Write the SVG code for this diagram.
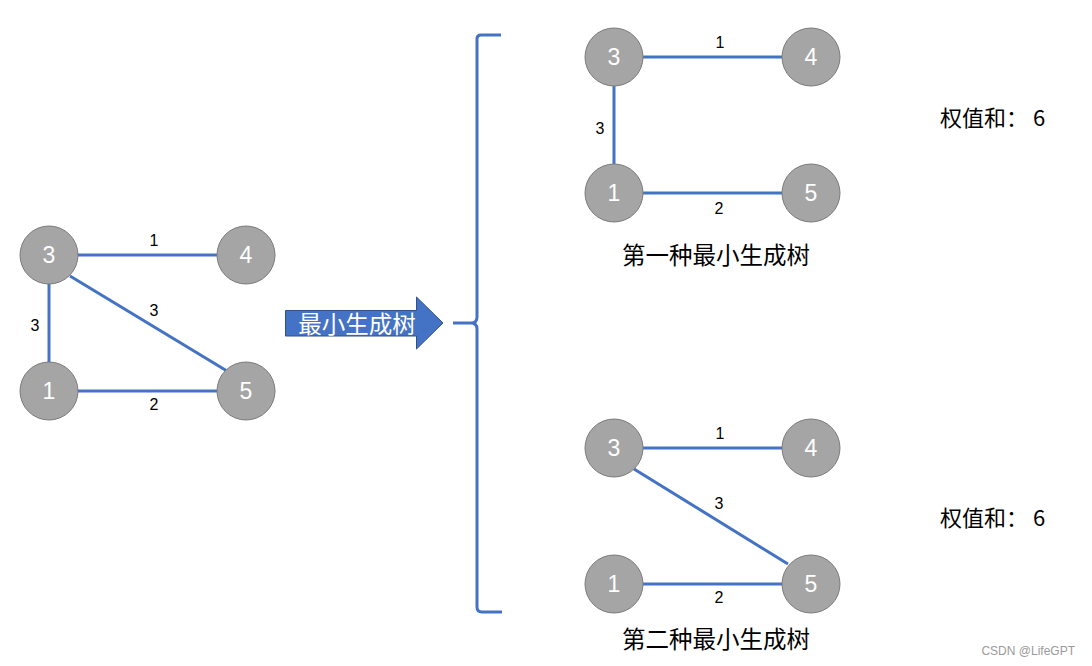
<svg xmlns="http://www.w3.org/2000/svg" width="1092" height="666" viewBox="0 0 1092 666">
<style>
.node circle{fill:#A5A5A5;stroke:#7a7a7a;stroke-width:1}
.node text{fill:#fff;font-family:"Liberation Sans","Noto Sans",sans-serif;font-size:23px;text-anchor:middle;dominant-baseline:central}
.edge{stroke:#4472C4;stroke-width:3;fill:none}
.lbl{fill:#000;font-family:"Liberation Sans","Noto Sans",sans-serif;font-size:16px;text-anchor:middle;dominant-baseline:central}
.cjk{fill:#000;font-family:"Noto Sans CJK SC",sans-serif;font-size:22px;dominant-baseline:central}
</style>
<rect width="1092" height="666" fill="#fff"/>
<g id="connectors">
<line class="edge" x1="78" y1="255" x2="217" y2="255"/>
<line class="edge" x1="49" y1="284" x2="49" y2="362"/>
<line class="edge" x1="70" y1="276" x2="227" y2="371"/>
<line class="edge" x1="78" y1="391" x2="217" y2="391"/>
<line class="edge" x1="643" y1="57" x2="782" y2="57"/>
<line class="edge" x1="614" y1="86" x2="614" y2="164"/>
<line class="edge" x1="643" y1="193" x2="782" y2="193"/>
<line class="edge" x1="643" y1="448" x2="782" y2="448"/>
<line class="edge" x1="634" y1="469" x2="788" y2="564"/>
<line class="edge" x1="643" y1="584" x2="782" y2="584"/>
</g>
<g id="edge-labels">
<text class="lbl" x="154" y="240">1</text>
<text class="lbl" x="35" y="325">3</text>
<text class="lbl" x="154" y="310">3</text>
<text class="lbl" x="154" y="404">2</text>
<text class="lbl" x="720" y="42">1</text>
<text class="lbl" x="600" y="128">3</text>
<text class="lbl" x="719" y="208">2</text>
<text class="lbl" x="720" y="433">1</text>
<text class="lbl" x="719" y="503">3</text>
<text class="lbl" x="719" y="597">2</text>
</g>
<g id="g0-n3" class="node"><circle cx="49" cy="255" r="29"/><text x="49" y="255">3</text></g>
<g id="g0-n4" class="node"><circle cx="246" cy="255" r="29"/><text x="246" y="255">4</text></g>
<g id="g0-n1" class="node"><circle cx="49" cy="391" r="29"/><text x="49" y="391">1</text></g>
<g id="g0-n5" class="node"><circle cx="246" cy="391" r="29"/><text x="246" y="391">5</text></g>
<g id="g1-n3" class="node"><circle cx="614" cy="57" r="29"/><text x="614" y="57">3</text></g>
<g id="g1-n4" class="node"><circle cx="811" cy="57" r="29"/><text x="811" y="57">4</text></g>
<g id="g1-n1" class="node"><circle cx="614" cy="193" r="29"/><text x="614" y="193">1</text></g>
<g id="g1-n5" class="node"><circle cx="811" cy="193" r="29"/><text x="811" y="193">5</text></g>
<g id="g2-n3" class="node"><circle cx="614" cy="448" r="29"/><text x="614" y="448">3</text></g>
<g id="g2-n4" class="node"><circle cx="811" cy="448" r="29"/><text x="811" y="448">4</text></g>
<g id="g2-n1" class="node"><circle cx="614" cy="584" r="29"/><text x="614" y="584">1</text></g>
<g id="g2-n5" class="node"><circle cx="811" cy="584" r="29"/><text x="811" y="584">5</text></g>
<g id="arrow">
<path d="M285.5 310.5 H416.5 V297 L443 323 L416.5 349 V336 H285.5 Z" fill="#4472C4" stroke="#2F528F" stroke-width="1"/>
<text x="357" y="323" class="cjk" style="fill:#fff;text-anchor:middle;font-size:23.5px">最小生成树</text>
</g>
<g id="brace">
<path d="M501 35 H481 Q477 35 477 39 V317 Q477 323 471 323 H453 M477 329 Q477 323 471 323 M477 329 V607 Q477 612 482 612 H502" fill="none" stroke="#4472C4" stroke-width="3"/>
</g>
<text class="cjk" x="716" y="254" style="text-anchor:middle;font-size:23.5px">第一种最小生成树</text>
<text class="cjk" x="716" y="638" style="text-anchor:middle;font-size:23.5px">第二种最小生成树</text>
<text class="cjk" x="940" y="116">权值和： 6</text>
<text class="cjk" x="940" y="516">权值和： 6</text>
<text x="1075" y="651" style="fill:#9a9a9a;font-family:'Liberation Sans',sans-serif;font-size:12px;text-anchor:end;dominant-baseline:central">CSDN @LifeGPT</text>
</svg>
